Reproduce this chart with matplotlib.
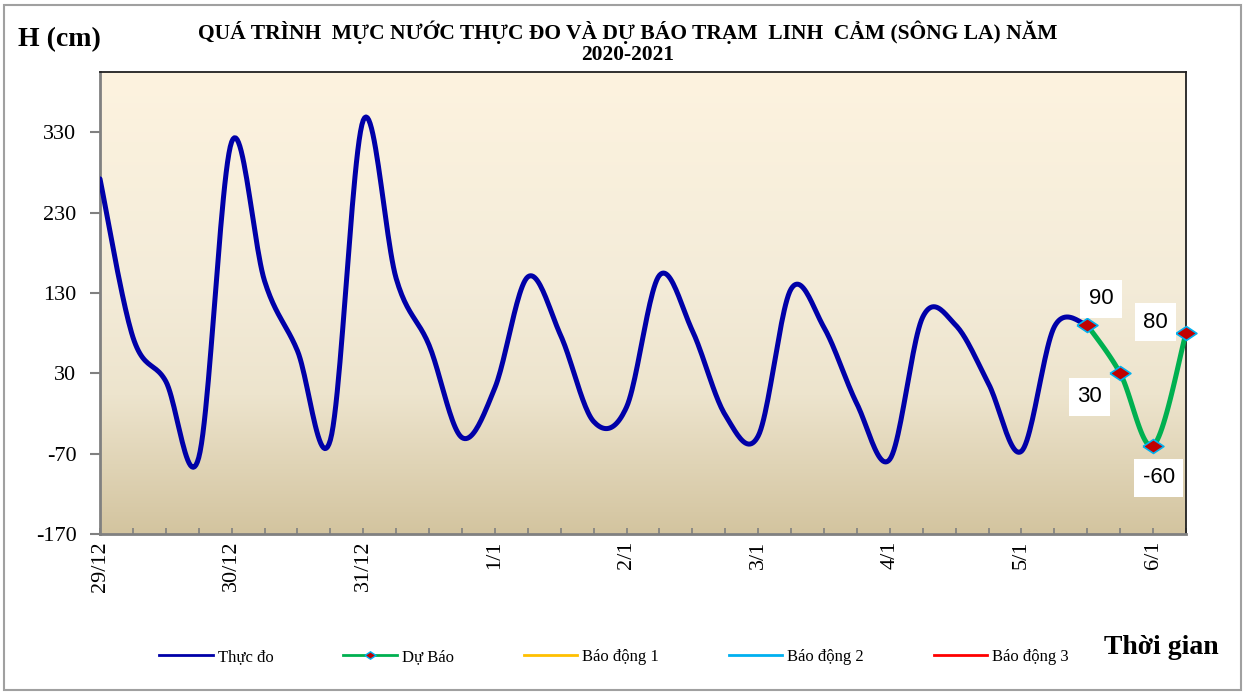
import numpy as np
import matplotlib.pyplot as plt
from matplotlib.lines import Line2D
from matplotlib.patches import Rectangle
from matplotlib.colors import LinearSegmentedColormap

# 6-hourly water levels (cm), x in days from 29/12
obs_days = np.arange(31) * 0.25
obs_level = [272, 75, 20, -75, 318, 145, 58, -53, 345, 148, 65, -50, 12, 150, 77, -30,
             -12, 152, 83, -22, -48, 135, 87, -8, -77, 100, 90, 17, -67, 88, 90]
fc_days = [7.5, 7.75, 8.0, 8.25]
fc_level = [90, 30, -60, 80]
day_labels = ["29/12", "30/12", "31/12", "1/1", "2/1", "3/1", "4/1", "5/1", "6/1"]
y_ticks = [-170, -70, 30, 130, 230, 330]

SERIF = ["Liberation Serif", "DejaVu Serif"]
SANS = ["Liberation Sans", "DejaVu Sans"]


def _smooth(x, y, n=24):
    # Catmull-Rom curve through the points, like Excel's smoothed line
    x = np.asarray(x, float)
    y = np.asarray(y, float)
    px = np.concatenate([[x[0]], x, [x[-1]]])
    py = np.concatenate([[y[0]], y, [y[-1]]])
    xs, ys = [], []
    t = np.linspace(0, 1, n, endpoint=False)
    for i in range(1, len(px) - 2):
        m0x = (px[i + 1] - px[i - 1]) / 2
        m1x = (px[i + 2] - px[i]) / 2
        m0y = (py[i + 1] - py[i - 1]) / 2
        m1y = (py[i + 2] - py[i]) / 2
        h00 = 2 * t**3 - 3 * t**2 + 1
        h10 = t**3 - 2 * t**2 + t
        h01 = -2 * t**3 + 3 * t**2
        h11 = t**3 - t**2
        xs.append(h00 * px[i] + h10 * m0x + h01 * px[i + 1] + h11 * m1x)
        ys.append(h00 * py[i] + h10 * m0y + h01 * py[i + 1] + h11 * m1y)
    xs.append([x[-1]])
    ys.append([y[-1]])
    return np.concatenate(xs), np.concatenate(ys)


fig = plt.figure(figsize=(12.53, 6.93), dpi=100)
ax = fig.add_axes([100 / 1253, 1 - 534 / 693, 1086 / 1253, 462 / 693])

xmin, xmax, ymin, ymax = 0, 8.25, -170, 405
ax.set_xlim(xmin, xmax)
ax.set_ylim(ymin, ymax)

# plot area gradient
grad = LinearSegmentedColormap.from_list(
    "bg", [(0, "#D3C49F"), (0.3, "#EDE4CD"), (0.55, "#F4ECD9"), (1, "#FDF3DF")])
ax.imshow(np.linspace(0, 1, 256).reshape(-1, 1), cmap=grad, origin="lower",
          extent=[xmin, xmax, ymin, ymax], aspect="auto", zorder=0)

marker = [(-1.5, 0), (0, 1), (1.5, 0), (0, -1), (-1.5, 0)]

sx, sy = _smooth(obs_days, obs_level)
ax.plot(sx, sy, color="#0000A8", lw=3.6, zorder=3, solid_capstyle="round")
fx, fy = _smooth(fc_days, fc_level)
ax.plot(fx, fy, color="#00B050", lw=3.6, zorder=4, clip_on=False)
ax.plot(fc_days, fc_level, ls="none", marker=marker, ms=15, mfc="#C00000",
        mec="#00B0F0", mew=1.2, zorder=5, clip_on=False)

offsets = [(10, 19), (-22, -17), (4, -23), (-22, 8)]
for d, v, off in zip(fc_days, fc_level, offsets):
    ax.annotate(f"{v}", (d, v), xytext=off, textcoords="offset points",
                ha="center", va="center", fontsize=16, family=SANS, zorder=6,
                bbox=dict(boxstyle="square,pad=0.38", fc="white", ec="none"),
                annotation_clip=False)

ax.set_yticks(y_ticks)
ax.set_yticklabels([str(v) for v in y_ticks], family=SERIF, fontsize=16)
ax.set_xticks(range(len(day_labels)))
ax.set_xticklabels(day_labels, rotation=90, family=SERIF, fontsize=16)
ax.set_xticks(np.arange(0, 8.26, 0.25), minor=True)
ax.tick_params(axis="y", direction="out", length=7, width=1.5, color="#808080", pad=10)
ax.tick_params(axis="x", which="both", direction="in", length=4, width=1.2,
               color="#808080", pad=5)

for side in ("left", "bottom"):
    ax.spines[side].set_color("#808080")
    ax.spines[side].set_linewidth(2)
for side in ("top", "right"):
    ax.spines[side].set_color("#202020")
    ax.spines[side].set_linewidth(1.3)

fig.text(0.501, 1 - 21 / 693, "QUÁ TRÌNH  MỰC NƯỚC THỰC ĐO VÀ DỰ BÁO TRẠM  LINH  CẢM (SÔNG LA) NĂM\n2020-2021",
         ha="center", va="top", fontsize=15.5, fontweight="bold", family=SERIF, linespacing=1.0)
fig.text(18 / 1253, 1 - 40 / 693, "H (cm)", ha="left", va="center",
         fontsize=20, fontweight="bold", family=SERIF)
fig.text(1104 / 1253, 1 - 647 / 693, "Thời gian", ha="left", va="center",
         fontsize=20, fontweight="bold", family=SERIF)

handles = [
    Line2D([], [], color="#0000A8", lw=2),
    Line2D([], [], color="#00B050", lw=2, marker=marker, ms=8, mfc="#C00000", mec="#00B0F0"),
    Line2D([], [], color="#FFC000", lw=2),
    Line2D([], [], color="#00B0F0", lw=2),
    Line2D([], [], color="#FF0000", lw=2),
]
labels = ["Thực đo", "Dự Báo", "Báo động 1", "Báo động 2", "Báo động 3"]
fig.legend(handles, labels, loc="center", bbox_to_anchor=(614 / 1253, 1 - 657 / 693),
           ncol=5, frameon=False, prop={"family": SERIF, "size": 12},
           handlelength=3.2, handletextpad=0.3, columnspacing=4.2)

fig.add_artist(Rectangle((4 / 1253, 3 / 693), 1237 / 1253, 685 / 693,
                         transform=fig.transFigure, fill=False, ec="#A0A0A0", lw=1.5))

fig.savefig("out.png", dpi=100)
